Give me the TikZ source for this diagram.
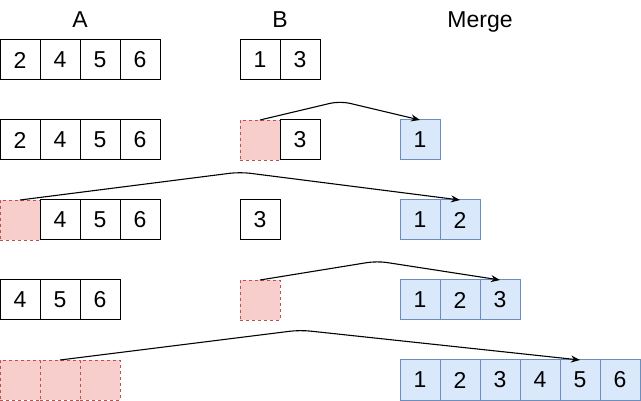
\documentclass[tikz,border=0pt]{standalone}
\usepackage{fontspec}
\setmainfont{Liberation Sans}
\usetikzlibrary{arrows.meta}
\definecolor{pinkfill}{HTML}{F8CECC}
\definecolor{pinkline}{HTML}{B85450}
\definecolor{bluefill}{HTML}{DAE8FC}
\definecolor{blueline}{HTML}{6C8EBF}
\tikzset{
  cell/.style={draw=black, line width=1pt, fill=white, minimum width=40pt, minimum height=40pt, inner sep=0pt, outer sep=0pt, font=\fontsize{23}{27}\selectfont},
  gone/.style={cell, draw=pinkline, fill=pinkfill, line width=0.8pt, dashed, dash pattern=on 3pt off 3pt},
  merged/.style={cell, draw=blueline, fill=bluefill},
  head/.style={anchor=base, inner sep=0pt, font=\fontsize{23}{27}\selectfont},
  flow/.style={draw=black, line width=1.1pt, rounded corners=10pt, -{Stealth[length=9pt,width=7pt]}}
}
\begin{document}
\begin{tikzpicture}[x=1pt,y=-1pt]
\useasboundingbox (0,0) rectangle (641,401);
% headers
\node[head] (hA) at (80,28) {A};
\node[head] (hB) at (280,28) {B};
\node[head] (hM) at (480,28) {Merge};
% row 1
\node[cell] (a11) at (20,60) {2};
\node[cell] (a12) at (60,60) {4};
\node[cell] (a13) at (100,60) {5};
\node[cell] (a14) at (140,60) {6};
\node[cell] (b11) at (260,60) {1};
\node[cell] (b12) at (300,60) {3};
% row 2
\node[cell] (a21) at (20,140) {2};
\node[cell] (a22) at (60,140) {4};
\node[cell] (a23) at (100,140) {5};
\node[cell] (a24) at (140,140) {6};
\node[gone] (b21) at (260,140) {};
\node[cell] (b22) at (300,140) {3};
\node[merged] (m21) at (420,140) {1};
% row 3
\node[gone] (a31) at (20,220) {};
\node[cell] (a32) at (60,220) {4};
\node[cell] (a33) at (100,220) {5};
\node[cell] (a34) at (140,220) {6};
\node[cell] (b31) at (260,220) {3};
\node[merged] (m31) at (420,220) {1};
\node[merged] (m32) at (460,220) {2};
% row 4
\node[cell] (a41) at (20,300) {4};
\node[cell] (a42) at (60,300) {5};
\node[cell] (a43) at (100,300) {6};
\node[gone] (b41) at (260,300) {};
\node[merged] (m41) at (420,300) {1};
\node[merged] (m42) at (460,300) {2};
\node[merged] (m43) at (500,300) {3};
% row 5
\node[gone] (a51) at (20,380) {};
\node[gone] (a52) at (60,380) {};
\node[gone] (a53) at (100,380) {};
\node[merged] (m51) at (420,380) {1};
\node[merged] (m52) at (460,380) {2};
\node[merged] (m53) at (500,380) {3};
\node[merged] (m54) at (540,380) {4};
\node[merged] (m55) at (580,380) {5};
\node[merged] (m56) at (620,380) {6};
% waypoints
\coordinate (p1) at (340,101);
\coordinate (p2) at (240,172);
\coordinate (p3) at (377,261);
\coordinate (p4) at (300,330);
% arrows
\draw[flow] (b21.north) -- (p1) -- (m21.north);
\draw[flow] (a31.north) -- (p2) -- (m32.north);
\draw[flow] (b41.north) -- (p3) -- (m43.north);
\draw[flow] (a52.north) -- (p4) -- (m55.north);
\end{tikzpicture}
\end{document}
